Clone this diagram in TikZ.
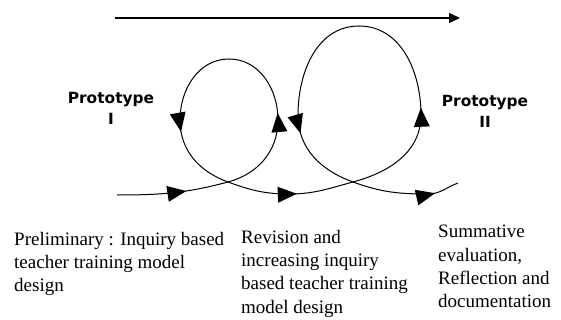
\documentclass[tikz,border=0pt]{standalone}
\usepackage{fontspec}
\setmainfont{Liberation Serif}
\newfontfamily\protofont{DejaVu Sans}
\usetikzlibrary{arrows.meta,decorations.markings}

\begin{document}
\begin{tikzpicture}[x=1pt,y=1pt]
\tikzset{curve/.style = {line width=1pt}}
\tikzset{flow/.style = {curve,postaction={decorate},
  decoration={markings,mark=at position #1 with {\fill (-19pt,-8pt) -- (0pt,0pt) -- (-19pt,8pt) -- cycle;}}}}
\tikzset{stage/.style = {inner sep=0,align=left,anchor=north west,font=\fontsize{19}{23.3}\selectfont}}
\tikzset{proto/.style = {inner sep=0,align=center,anchor=north,font=\protofont\bfseries\fontsize{15.4}{21}\selectfont}}
\useasboundingbox (0,0) rectangle (561,320);
% time axis
\coordinate (tl) at (115,302);
\coordinate (tr) at (460,302);
\draw[line width=1.2pt,-{Triangle[length=11pt,width=10pt]}] (tl) -- (tr);
% path points
\coordinate (start) at (117,125);
\coordinate (x1) at (228,138);
\coordinate (r1) at (278,200);
\coordinate (t1) at (229,261);
\coordinate (l1) at (180,200);
\coordinate (b1) at (289,126);
\coordinate (x2) at (353,138);
\coordinate (r2) at (421,205);
\coordinate (t2) at (359,294);
\coordinate (l2) at (298,205);
\coordinate (b2) at (428,126);
\coordinate (stop) at (458,137);
% first loop
\draw[flow=0.62] (start) to[out=0,in=195] (x1);
\draw[curve] (x1) to[out=15,in=-90] (r1);
\draw[flow=0.08] (r1) to[out=90,in=0] (t1);
\draw[curve] (t1) to[out=180,in=90] (l1);
\draw[flow=0.14] (l1) to[out=-90,in=160] (x1);
\draw[curve] (x1) to[out=-20,in=180] (b1);
% second loop
\draw[flow=0.12] (b1) to[out=0,in=195] (x2);
\draw[curve] (x2) to[out=15,in=-90] (r2);
\draw[flow=0.06] (r2) to[out=90,in=0] (t2);
\draw[curve] (t2) to[out=180,in=90] (l2);
\draw[flow=0.2] (l2) to[out=-90,in=160] (x2);
\draw[curve] (x2) to[out=-20,in=180] (b2);
\draw[flow=0.22] (b2) to[out=0,in=200] (stop);
% prototypes
\node[proto] (proto1) at (111,228) {Prototype\\I};
\node[proto] (proto2) at (485,225) {Prototype\\II};
% stages
\node[stage] (prelim) at (14,88) {Preliminary : Inquiry based\\teacher training model\\design};
\node[stage] (revision) at (241,90) {Revision and\\increasing inquiry\\based teacher training\\model design};
\node[stage] (summative) at (438,95) {Summative\\evaluation,\\Reflection and\\documentation};
\end{tikzpicture}
\end{document}
